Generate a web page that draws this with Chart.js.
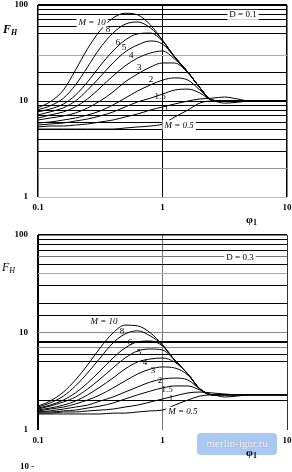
<!DOCTYPE html>
<html>
<head>
<meta charset="utf-8">
<script src="https://cdn.jsdelivr.net/npm/chart.js@4.4.1/dist/chart.umd.min.js"></script>
<style>
    body { margin: 0; width: 292px; height: 472px; position: relative; background: #fff; overflow: hidden; font-family: "Liberation Serif", serif; }
    .wrap { position: absolute; left: 0; width: 292px; }
    .txt { position: absolute; color: #000; white-space: nowrap; }
    .txt sub { font-size: 8px; vertical-align: -2px; }
    #mark { position: absolute; left: 197px; top: 433px; width: 80px; height: 22px; background: #a9c9f2; border-radius: 4px;
            color: #fff; font: 11px "Liberation Serif", serif; line-height: 20px; text-align: center; text-shadow: 0 0 1px #5a7fb5; }
</style>
</head>
<body>
<div class="wrap" style="top:0;height:230px"><canvas id="chart-top"></canvas></div>
<div class="wrap" style="top:230px;height:242px"><canvas id="chart-bottom"></canvas></div>

<div class="txt" style="left:3px;top:22px;font:italic bold 12px 'Liberation Serif'">F<sub>H</sub></div>
<div class="txt" style="left:246px;top:213px;font:bold 11px 'Liberation Serif'">φ<sub>1</sub></div>
<div class="txt" style="left:2px;top:260px;font:italic 12px 'Liberation Serif'">F<sub>H</sub></div>
<div id="mark">merlin-igor.ru</div>
<div class="txt" style="left:246px;top:446px;font:bold 11px 'Liberation Serif'">φ<sub>1</sub></div>
<div class="txt" style="left:20px;top:461px;font:bold 9px 'Liberation Serif'">10 -</div>

<script>
Chart.defaults.font.family = '"Liberation Serif", serif';

// relative frequency (x axis), shared by all curves
const phi = [0.1, 0.125, 0.16, 0.2, 0.25, 0.315, 0.4, 0.5, 0.63, 0.8, 1, 1.25, 1.6, 2, 2.5, 3.15, 4, 5, 6.3, 8, 10];

// upper plot, D = 0.1
const topM10 = [8.5, 9.8, 13, 21, 35, 54, 73, 82, 79, 62, 43, 29, 20, 13.7, 10.2, 10, 10, 10, 10, 10, 10];
const topM8 = [8.1, 8.9, 10.7, 14.7, 22.6, 35.6, 51, 63, 66.5, 57.6, 43, 28.7, 20, 13.7, 10.2, 10, 10, 10, 10, 10, 10];
const topM6 = [7.7, 8.25, 9.3, 11.5, 15.8, 23.2, 33.2, 43, 50, 51, 42, 28.7, 20, 13.7, 10.2, 10, 10, 10, 10, 10, 10];
const topM5 = [7.15, 7.7, 8.5, 10, 13, 17.8, 24.9, 32.4, 38.3, 42.2, 39.2, 28.7, 20, 13.7, 10.2, 10, 10, 10, 10, 10, 10];
const topM4 = [6.65, 7.15, 7.7, 8.7, 10.5, 13.7, 18.2, 23.2, 28, 31.6, 33.2, 27.4, 20, 13.7, 10.2, 10, 10, 10, 10, 10, 10];
const topM3 = [6.34, 6.65, 6.98, 7.5, 8.46, 10, 12.4, 15.8, 19.1, 22.6, 24.9, 24.9, 19.6, 13.7, 10.2, 10, 10, 10, 10, 10, 10];
const topM2 = [5.9, 6.04, 6.34, 6.65, 7.15, 7.86, 9.09, 10.7, 12.7, 14.7, 16.5, 17.4, 16.5, 13, 10.2, 10, 10, 10, 10, 10, 10];
const topM15 = [5.62, 5.76, 5.9, 6.19, 6.49, 6.98, 7.68, 8.66, 9.77, 10.7, 11.8, 13, 13.3, 12.1, 10.2, 10, 10, 10, 10, 10, 10];
const topM1 = [5.36, 5.49, 5.49, 5.62, 5.76, 6.04, 6.34, 6.81, 7.32, 8.06, 8.66, 9.31, 10, 10.5, 10.7, 11, 10.5, 10, 10, 10, 10];
const topM05 = [5.1, 5.1, 5.1, 5.1, 5.1, 5.1, 5.1, 5.23, 5.36, 5.49, 5.76, 6.81, 8.06, 9.54, 10, 9.5, 9.7, 10, 10, 10, 10];

// lower plot, D = 0.3
const botM10 = [1.76, 1.98, 2.45, 3.26, 4.64, 6.93, 9.9, 11.9, 11.7, 9.9, 7.45, 5.22, 3.75, 2.63, 2.3, 2.3, 2.3, 2.3, 2.3, 2.3, 2.3];
const botM8 = [1.72, 1.89, 2.23, 2.83, 3.84, 5.47, 7.8, 9.66, 10.4, 9.2, 7.45, 5.22, 3.75, 2.63, 2.3, 2.3, 2.3, 2.3, 2.3, 2.3, 2.3];
const botM6 = [1.68, 1.8, 2.03, 2.4, 3.03, 4.03, 5.47, 6.93, 8.0, 8.18, 7.27, 5.22, 3.75, 2.63, 2.3, 2.3, 2.3, 2.3, 2.3, 2.3, 2.3];
const botM5 = [1.64, 1.76, 1.94, 2.18, 2.63, 3.33, 4.33, 5.47, 6.46, 6.77, 6.62, 5.22, 3.75, 2.63, 2.3, 2.3, 2.3, 2.3, 2.3, 2.3, 2.3];
const botM4 = [1.6, 1.68, 1.8, 1.98, 2.29, 2.76, 3.41, 4.22, 4.98, 5.35, 5.47, 4.98, 3.75, 2.63, 2.3, 2.3, 2.3, 2.3, 2.3, 2.3, 2.3];
const botM3 = [1.57, 1.64, 1.72, 1.85, 2.03, 2.29, 2.7, 3.18, 3.75, 4.22, 4.43, 4.33, 3.66, 2.63, 2.3, 2.3, 2.3, 2.3, 2.3, 2.3, 2.3];
const botM2 = [1.53, 1.57, 1.64, 1.72, 1.8, 1.98, 2.18, 2.45, 2.76, 3.11, 3.33, 3.41, 3.26, 2.63, 2.3, 2.3, 2.3, 2.3, 2.3, 2.3, 2.3];
const botM15 = [1.53, 1.53, 1.57, 1.6, 1.68, 1.76, 1.89, 2.08, 2.29, 2.51, 2.7, 2.83, 2.83, 2.57, 2.3, 2.3, 2.3, 2.3, 2.3, 2.3, 2.3];
const botM1 = [1.49, 1.49, 1.53, 1.53, 1.57, 1.6, 1.64, 1.72, 1.8, 1.94, 2.08, 2.23, 2.4, 2.45, 2.4, 2.34, 2.3, 2.3, 2.3, 2.3, 2.3];
const botM05 = [1.46, 1.46, 1.46, 1.46, 1.46, 1.46, 1.49, 1.49, 1.53, 1.57, 1.6, 1.8, 2.03, 2.23, 2.29, 2.18, 2.23, 2.3, 2.3, 2.3, 2.3];

// curve labels: [text, phi, F]
const topLabels = [
    ["M = 10", 0.272, 66], ["8", 0.365, 55], ["6", 0.44, 41], ["5", 0.49, 35.6], ["4", 0.56, 29.4],
    ["3", 0.65, 22], ["2", 0.81, 16.5], ["1.5", 0.955, 11], ["1", 1.07, 8.4], ["M = 0.5", 1.36, 5.6], ["D = 0.1", 4.43, 79]
];
const botLabels = [
    ["M = 10", 0.339, 12.8], ["8", 0.473, 10.1], ["6", 0.548, 7.8], ["5", 0.648, 6.17], ["4", 0.723, 4.87],
    ["3", 0.84, 4.03], ["2", 0.955, 3.18], ["1.5", 1.09, 2.57], ["1", 1.17, 2.1], ["M = 0.5", 1.46, 1.53], ["D = 0.3", 4.19, 58]
];

// grid line styles per tick value (anything not listed is plain black)
const topYGrid = { 100: ['#000', 2], 40: ['rgba(0,0,0,0)', 1], 30: ['#aaa', 1], 2: ['#999', 1], 1: ['#bbb', 1] };
const botYGrid = { 100: ['#000', 1.5], 60: ['#777', 1], 40: ['#aaa', 1], 10: ['#888', 1], 9: ['rgba(0,0,0,0)', 1],
                   8: ['#000', 2], 7: ['#888', 1], 4: ['rgba(0,0,0,0)', 1], 3: ['rgba(0,0,0,0)', 1], 1: ['rgba(0,0,0,0)', 1] };
const topXGrid = { 0.1: ['#000', 1.5], 1: ['#000', 1], 10: ['#000', 1.5] };
const botXGrid = { 0.1: ['#000', 2], 1: ['#777', 1], 10: ['#333', 1] };

const labelPlugin = {
    id: 'curveLabels',
    afterDatasetsDraw(chart, args, opts) {
        const ctx = chart.ctx;
        ctx.save();
        ctx.textAlign = 'center';
        ctx.textBaseline = 'middle';
        for (const [text, x, y] of opts.items || []) {
            const px = chart.scales.x.getPixelForValue(x);
            const py = chart.scales.y.getPixelForValue(y);
            ctx.font = (text.startsWith('M') ? 'italic ' : '') + '9px "Liberation Serif"';
            const w = ctx.measureText(text).width;
            ctx.fillStyle = '#fff';
            if (text.length > 3) ctx.fillRect(px - w / 2 - 2, py - 5, w + 4, 10);
            ctx.fillStyle = '#000';
            ctx.fillText(text, px, py);
        }
        ctx.restore();
    }
};

function key(v) {
    return Math.round(v * 1000) / 1000;
}

function gridStyle(table, fallback, i) {
    return ctx => {
        const s = table[key(ctx.tick.value)];
        return s ? s[i] : fallback[i];
    };
}

function createGraph(canvasId, curves, labels, yGrid, xGrid, xAxisHeight) {
    const datasets = curves.map(values => ({
        data: values.map((v, i) => ({ x: phi[i], y: v })),
        borderColor: '#000',
        borderWidth: 1,
        pointRadius: 0,
        fill: false,
        cubicInterpolationMode: 'monotone'
    }));

    return new Chart(document.getElementById(canvasId), {
        type: 'line',
        data: { datasets: datasets },
        plugins: [labelPlugin],
        options: {
            responsive: true,
            maintainAspectRatio: false,
            animation: false,
            devicePixelRatio: 1,
            layout: { padding: { top: 5, right: 5, left: 0, bottom: 0 } },
            plugins: {
                legend: { display: false },
                tooltip: { enabled: false },
                curveLabels: { items: labels }
            },
            scales: {
                x: {
                    type: 'logarithmic',
                    min: 0.1,
                    max: 10,
                    border: { display: false },
                    grid: {
                        drawTicks: false,
                        color: gridStyle(xGrid, ['rgba(0,0,0,0)', 1], 0),
                        lineWidth: gridStyle(xGrid, ['rgba(0,0,0,0)', 1], 1)
                    },
                    ticks: {
                        autoSkip: false,
                        maxRotation: 0,
                        padding: 5,
                        color: '#000',
                        font: { size: 9, weight: 'bold' },
                        callback: v => ({ 0.1: '0.1', 1: '1', 10: '10' })[key(v)] || ''
                    },
                    afterFit: s => { s.height = xAxisHeight; s.paddingLeft = 0; s.paddingRight = 0; }
                },
                y: {
                    type: 'logarithmic',
                    min: 1,
                    max: 100,
                    border: { display: false },
                    grid: {
                        drawTicks: false,
                        color: gridStyle(yGrid, ['#000', 1], 0),
                        lineWidth: gridStyle(yGrid, ['#000', 1], 1)
                    },
                    ticks: {
                        autoSkip: false,
                        padding: 10,
                        color: '#000',
                        font: { size: 9, weight: 'bold' },
                        callback: v => ({ 1: '1', 10: '10', 100: '100' })[key(v)] || ''
                    },
                    afterFit: s => { s.width = 38; s.paddingTop = 0; s.paddingBottom = 0; }
                }
            }
        }
    });
}

createGraph('chart-top', [topM10, topM8, topM6, topM5, topM4, topM3, topM2, topM15, topM1, topM05],
    topLabels, topYGrid, topXGrid, 33);
createGraph('chart-bottom', [botM10, botM8, botM6, botM5, botM4, botM3, botM2, botM15, botM1, botM05],
    botLabels, botYGrid, botXGrid, 42);
</script>
</body>
</html>
